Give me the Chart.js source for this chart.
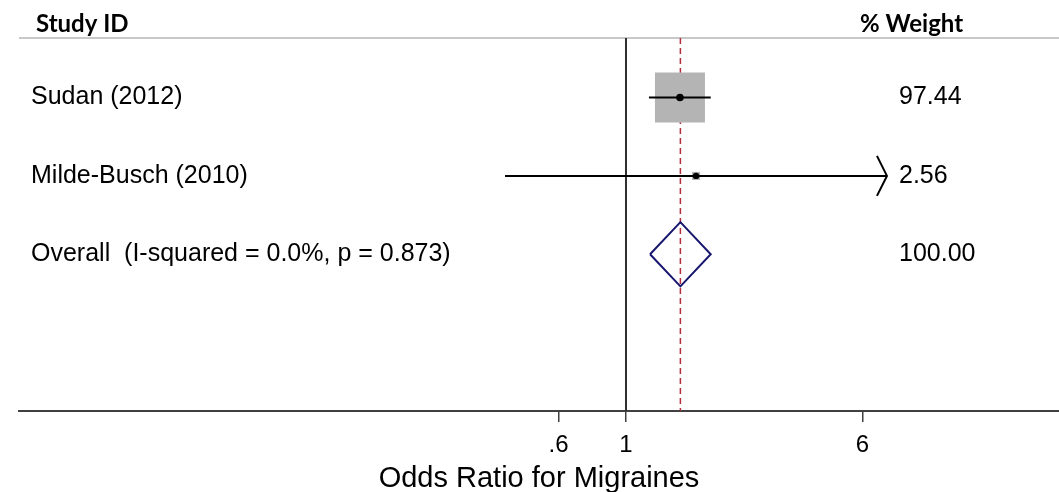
<!DOCTYPE html>
<html><head><meta charset="utf-8">
<script src="https://cdn.jsdelivr.net/npm/chart.js@4"></script>
<style>html,body{margin:0;padding:0;background:#fff;overflow:hidden}canvas{display:block}</style>
</head><body>
<canvas id="c" width="1059" height="496"></canvas>
<script>
// ---- data ----
const studies = ["Sudan (2012)", "Milde-Busch (2010)"];
const studyOR = [1.505, 1.70];
const studyLow = [1.19, 0.40];
const studyHigh = [1.90, 7.22];
const studyWeight = [97.44, 2.56];
const overallLabel = "Overall  (I-squared = 0.0%, p = 0.873)";
const overallOR = 1.51;
const overallLow = 1.20;
const overallHigh = 1.90;
const overallWeight = 100.00;
const xTicks = [0.6, 1, 6];
const xTickLabels = [".6", "1", "6"];
const xTitle = "Odds Ratio for Migraines";
const headers = ["Study ID", "% Weight"];

// ---- layout constants ----
const X_MIN = 0.01007, X_MAX = 26.58;
const Y_MIN = 0.24, Y_MAX = 5;
const DIAMOND_HALF = 0.41;   // in row units
const BOX_MAX_SIDE = 50;     // px for largest weight
const AXIS_HEIGHT = 85;      // px reserved for the x axis
const SANS = "'Liberation Sans', Arial, sans-serif";

const rowY = studies.map((s, i) => i + 1);
const overallY = studies.length + 1;
const maxW = Math.max(...studyWeight);

const datasets = [];
datasets.push({ // null line
  data: [{x: 1, y: Y_MIN}, {x: 1, y: Y_MAX}], showLine: true,
  borderColor: '#303030', borderWidth: 2, pointRadius: 0, order: 10
});
datasets.push({ // pooled estimate line
  data: [{x: overallOR, y: Y_MIN}, {x: overallOR, y: Y_MAX}], showLine: true,
  borderColor: '#b22e3a', borderWidth: 1.5, borderDash: [6, 4], pointRadius: 0, order: 9
});
datasets.push({ // weight boxes
  data: studies.map((s, i) => ({x: studyOR[i], y: rowY[i]})),
  pointStyle: 'rect',
  pointRadius: studyWeight.map(w => BOX_MAX_SIDE * Math.sqrt(w / maxW) / Math.SQRT2),
  backgroundColor: '#b4b4b4', borderWidth: 0, pointBorderWidth: 0, order: 8
});
studies.forEach((s, i) => {
  datasets.push({ // confidence interval
    data: [{x: studyLow[i], y: rowY[i]}, {x: studyHigh[i], y: rowY[i]}], showLine: true,
    borderColor: '#000', borderWidth: 2, pointRadius: 0, order: 7
  });
});
datasets.push({ // point estimates
  data: studies.map((s, i) => ({x: studyOR[i], y: rowY[i]})),
  pointStyle: 'circle', pointRadius: [3.8, 3.2],
  backgroundColor: '#000', pointBorderWidth: 0, borderWidth: 0, order: 6
});
datasets.push({ // overall diamond
  data: [
    {x: overallLow, y: overallY}, {x: overallOR, y: overallY - DIAMOND_HALF},
    {x: overallHigh, y: overallY}, {x: overallOR, y: overallY + DIAMOND_HALF},
    {x: overallLow, y: overallY}
  ], showLine: true, borderColor: '#16166e', borderWidth: 2, pointRadius: 0, fill: false, order: 5
});

const textPlugin = {
  id: 'forestText',
  beforeDatasetsDraw(chart) {
    const ctx = chart.ctx, a = chart.chartArea;
    ctx.save();
    ctx.strokeStyle = '#c8c8c8'; ctx.lineWidth = 2;
    ctx.beginPath(); ctx.moveTo(a.left, a.top); ctx.lineTo(chart.width, a.top); ctx.stroke();
    ctx.restore();
  },
  afterDraw(chart) {
    const ctx = chart.ctx, xs = chart.scales.x, ys = chart.scales.y;
    ctx.save();
    ctx.fillStyle = '#000';
    ctx.font = "bold 24px Lato, 'Open Sans', sans-serif";
    ctx.textBaseline = 'alphabetic'; ctx.textAlign = 'left';
    ctx.fillText(headers[0], 36, 32);
    ctx.fillText(headers[1], 860, 32);
    ctx.font = "25px " + SANS;
    ctx.textBaseline = 'middle';
    studies.forEach((s, i) => {
      const y = ys.getPixelForValue(rowY[i]);
      ctx.fillText(s, 31, y);
      ctx.fillText(studyWeight[i].toFixed(2), 899, y);
    });
    const yo = ys.getPixelForValue(overallY);
    ctx.fillText(overallLabel, 31, yo);
    ctx.fillText(overallWeight.toFixed(2), 899, yo);
    // arrows for intervals beyond the last tick
    const lastTick = Math.max(...xTicks);
    ctx.strokeStyle = '#000'; ctx.lineWidth = 2;
    studies.forEach((s, i) => {
      if (studyHigh[i] > lastTick) {
        const tx = xs.getPixelForValue(studyHigh[i]), y = ys.getPixelForValue(rowY[i]);
        ctx.beginPath(); ctx.moveTo(tx - 10, y - 20); ctx.lineTo(tx, y); ctx.lineTo(tx - 10, y + 20); ctx.stroke();
      }
    });
    ctx.restore();
  }
};

new Chart(document.getElementById('c'), {
  type: 'scatter',
  data: { datasets },
  options: {
    responsive: false, animation: false, events: [],
    layout: { autoPadding: false, padding: { left: 19, right: 0, top: 38, bottom: 0 } },
    plugins: { legend: { display: false }, tooltip: { enabled: false } },
    scales: {
      x: {
        type: 'logarithmic', min: X_MIN, max: X_MAX,
        afterBuildTicks: (scale) => { scale.ticks = xTicks.map(v => ({value: v})); },
        afterFit: (scale) => { scale.height = AXIS_HEIGHT; },
        ticks: {
          color: '#000', padding: 9, maxRotation: 0, autoSkip: false,
          font: { family: SANS, size: 24 },
          major: { enabled: false },
          callback: (v) => { const k = xTicks.indexOf(v); return k >= 0 ? xTickLabels[k] : ''; }
        },
        grid: { drawOnChartArea: false, drawTicks: true, tickLength: 11, color: '#404040', lineWidth: 1.5 },
        border: { display: true, color: '#404040', width: 2 },
        title: { display: true, text: xTitle, color: '#000', font: { family: SANS, size: 29 }, padding: { top: 5, bottom: 0 } }
      },
      y: { type: 'linear', min: Y_MIN, max: Y_MAX, reverse: true, display: false }
    }
  },
  plugins: [textPlugin]
});
</script>
</body></html>
